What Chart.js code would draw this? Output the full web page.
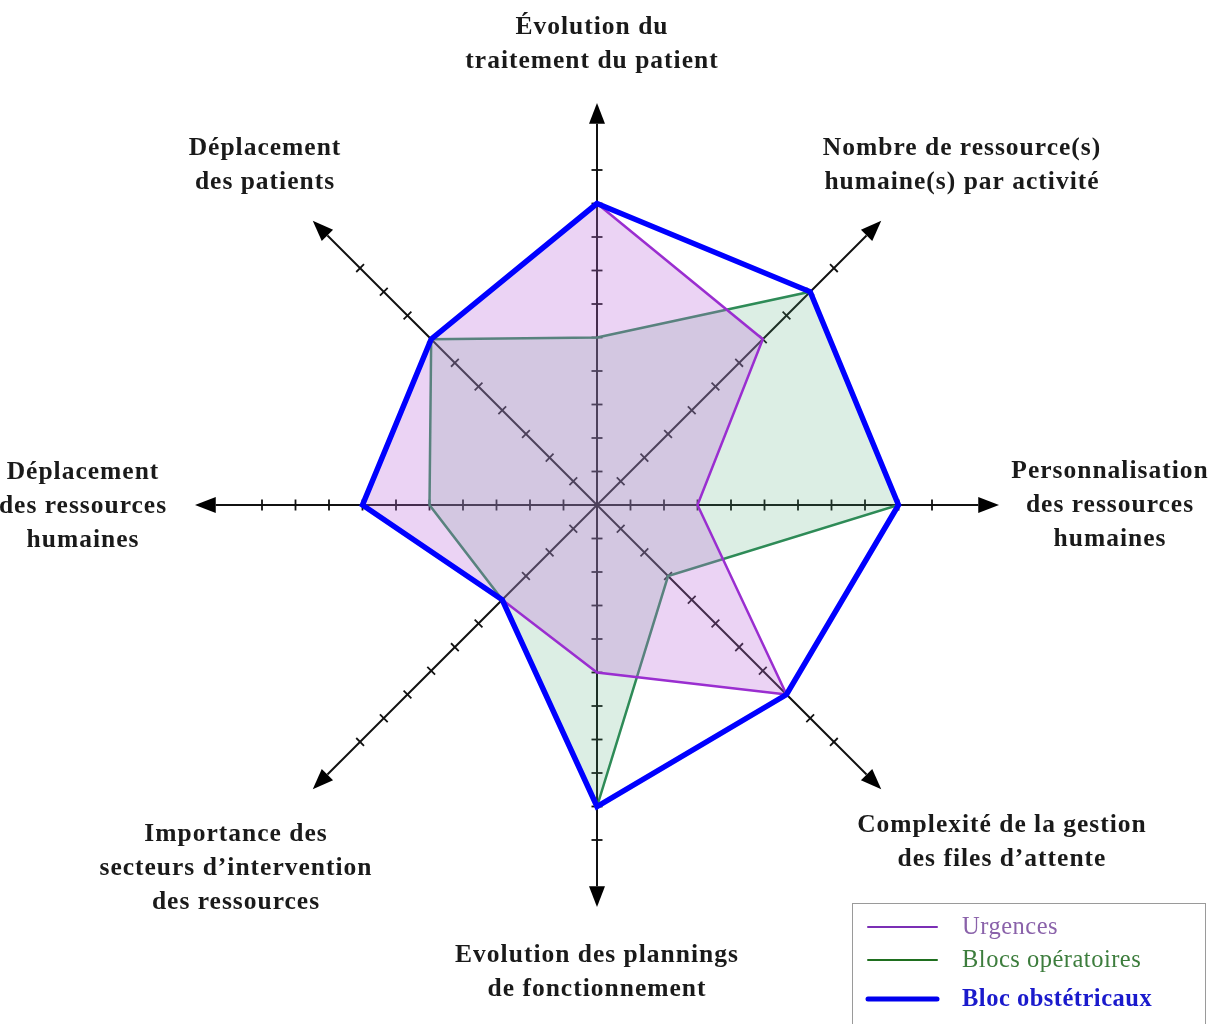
<!DOCTYPE html>
<html lang="fr">
<head>
<meta charset="utf-8">
<title>Comparaison des services</title>
<script src="https://cdn.jsdelivr.net/npm/chart.js@4.4.1/dist/chart.umd.min.js"></script>
<style>
  html, body { margin: 0; padding: 0; background: #fff; }
  #wrap { width: 1220px; height: 1024px; position: relative; overflow: hidden; }
</style>
</head>
<body>
<div id="wrap"><canvas id="radar" width="1220" height="1024"></canvas></div>
<script>
// axes, clockwise from the top
const axisLabels = [
  ["Évolution du", "traitement du patient"],
  ["Nombre de ressource(s)", "humaine(s) par activité"],
  ["Personnalisation", "des ressources", "humaines"],
  ["Complexité de la gestion", "des files d’attente"],
  ["Evolution des plannings", "de fonctionnement"],
  ["Importance des", "secteurs d’intervention", "des ressources"],
  ["Déplacement", "des ressources", "humaines"],
  ["Déplacement", "des patients"]
];
const urgences = [9, 7, 3, 8, 5, 4, 7, 7];
const blocsOperatoires = [5, 9, 9, 3, 9, 4, 5, 7];
const blocObstetricaux = [9, 9, 9, 8, 9, 4, 7, 7];
const tickValues = [1, 2, 3, 4, 5, 6, 7, 8, 9, 10];
const axisMax = 10;
const arrowValue = 12;

// where each label block is centred (x, y of first line)
const labelAnchors = [
  [592, 27], [962, 148], [1110, 471], [1002, 825],
  [597, 955], [236, 834], [83, 472], [265, 148]
];
const labelFont = 'bold 25.5px "Liberation Serif", serif';
const lineGap = 34;

const legendItems = [
  { text: "Urgences", line: "#7b2fb5", color: "#8a62aa", width: 2, bold: false },
  { text: "Blocs opératoires", line: "#1f6f1f", color: "#3d7d3d", width: 2, bold: false },
  { text: "Bloc obstétricaux", line: "#0000ee", color: "#1a1acc", width: 5, bold: true }
];

const axesPlugin = {
  id: "axes",
  beforeDatasetsDraw(chart) {
    const r = chart.scales.r;
    const ctx = chart.ctx;
    const n = chart.data.labels.length;
    ctx.save();
    ctx.strokeStyle = "#111";
    ctx.fillStyle = "#000";
    for (let i = 0; i < n; i++) {
      const tip = r.getPointPositionForValue(i, arrowValue);
      const base = r.getPointPositionForValue(i, arrowValue - 0.62);
      const a = tip.angle;
      const px = Math.cos(a + Math.PI / 2), py = Math.sin(a + Math.PI / 2);

      ctx.lineWidth = 2;
      ctx.beginPath();
      ctx.moveTo(r.xCenter, r.yCenter);
      ctx.lineTo(base.x, base.y);
      ctx.stroke();

      ctx.beginPath();
      ctx.moveTo(tip.x, tip.y);
      ctx.lineTo(base.x + px * 8, base.y + py * 8);
      ctx.lineTo(base.x - px * 8, base.y - py * 8);
      ctx.closePath();
      ctx.fill();

      ctx.lineWidth = 1.8;
      tickValues.forEach(v => {
        const p = r.getPointPositionForValue(i, v);
        ctx.beginPath();
        ctx.moveTo(p.x + px * 5.5, p.y + py * 5.5);
        ctx.lineTo(p.x - px * 5.5, p.y - py * 5.5);
        ctx.stroke();
      });
    }
    ctx.restore();
  },
  afterDraw(chart) {
    const ctx = chart.ctx;
    ctx.save();
    ctx.font = labelFont;
    ctx.letterSpacing = "1px";
    ctx.fillStyle = "#1a1a1a";
    ctx.textAlign = "center";
    ctx.textBaseline = "middle";
    chart.data.labels.forEach((lines, i) => {
      const [x, y] = labelAnchors[i];
      lines.forEach((t, k) => ctx.fillText(t, x, y + k * lineGap));
    });

    // legend box
    ctx.letterSpacing = "0.5px";
    ctx.strokeStyle = "#9a9a9a";
    ctx.lineWidth = 1;
    ctx.strokeRect(852.5, 903.5, 353, 140);
    const rows = [927, 960, 999];
    legendItems.forEach((it, k) => {
      ctx.strokeStyle = it.line;
      ctx.lineWidth = it.width;
      ctx.lineCap = "round";
      ctx.beginPath();
      ctx.moveTo(868, rows[k]);
      ctx.lineTo(937, rows[k]);
      ctx.stroke();
      ctx.font = (it.bold ? "bold " : "") + '24.5px "Liberation Serif", serif';
      ctx.fillStyle = it.color;
      ctx.textAlign = "left";
      ctx.fillText(it.text, 962, rows[k] + 1);
    });
    ctx.restore();
  }
};

new Chart(document.getElementById("radar"), {
  type: "radar",
  data: {
    labels: axisLabels,
    datasets: [
      {
        label: "Bloc obstétricaux",
        data: blocObstetricaux,
        borderColor: "#0000ff",
        borderWidth: 5.5,
        backgroundColor: "rgba(0,0,0,0)",
        fill: false
      },
      {
        label: "Urgences",
        data: urgences,
        borderColor: "#9a2ed0",
        borderWidth: 2.5,
        backgroundColor: "rgba(190,110,220,0.3)",
        fill: true
      },
      {
        label: "Blocs opératoires",
        data: blocsOperatoires,
        borderColor: "#2e8b57",
        borderWidth: 2.5,
        backgroundColor: "rgba(80,170,120,0.2)",
        fill: true
      }
    ]
  },
  options: {
    responsive: false,
    animation: false,
    devicePixelRatio: 1,
    layout: { padding: { left: 262, right: 288, top: 170, bottom: 184 } },
    elements: {
      point: { radius: 0, hoverRadius: 0 },
      line: { tension: 0, borderJoinStyle: "miter" }
    },
    plugins: { legend: { display: false }, tooltip: { enabled: false } },
    scales: {
      r: {
        min: 0,
        max: axisMax,
        ticks: { display: false, stepSize: 1 },
        grid: { display: false },
        angleLines: { display: false },
        pointLabels: { display: false }
      }
    }
  },
  plugins: [axesPlugin]
});
</script>
</body>
</html>
